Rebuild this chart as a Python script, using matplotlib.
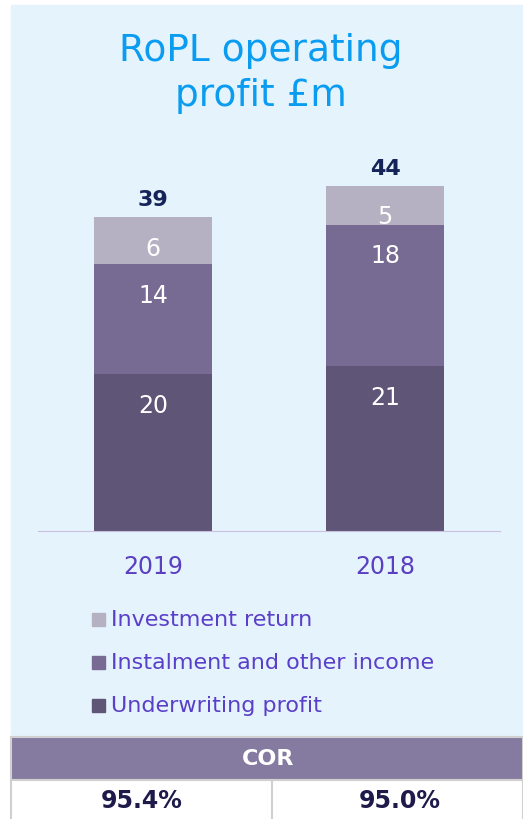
import matplotlib.pyplot as plt
from matplotlib.patches import Rectangle
import numpy as np

years = ["2019", "2018"]
underwriting = [20, 21]
instalment = [14, 18]
investment = [6, 5]
totals = [39, 44]
cor = ["95.4%", "95.0%"]

series = [
    ("Underwriting profit", underwriting, "#5e5577"),
    ("Instalment and other income", instalment, "#776b93"),
    ("Investment return", investment, "#b6b1c2"),
]

W, H = 523, 819


def fx(px):
    return px / W


def fy(py):
    return 1 - py / H


def main():
    plt.rcParams['font.family'] = ['DejaVu Sans']
    fig = plt.figure(figsize=(W / 100, H / 100), dpi=100)
    fig.patch.set_facecolor("white")

    # light blue panel
    fig.patches.append(Rectangle((fx(11), fy(737)), fx(512), 732 / H,
                                 transform=fig.transFigure, color="#e5f3fd", zorder=-5))

    fig.text(fx(261), fy(51), "RoPL operating", ha="center", va="center",
             fontsize=27, color="#0a9cf0")
    fig.text(fx(261), fy(96), "profit £m", ha="center", va="center",
             fontsize=27, color="#0a9cf0")

    ax = fig.add_axes([fx(38), fy(531), fx(462), 400 / H])
    ax.set_zorder(1)
    ax.set_facecolor("none")
    x = np.arange(len(years))
    bottom = np.zeros(len(years))
    for name, vals, col in series:
        vals = np.array(vals)
        ax.bar(x, vals, 0.509, bottom=bottom, color=col, zorder=2)
        # labels sit a fixed distance below each segment's top
        for xi, b, v in zip(x, bottom, vals):
            ax.text(xi, b + v - 4.0, str(v), ha="center", va="center",
                    color="white", fontsize=17, zorder=3)
        bottom = bottom + vals
    for xi, t, b in zip(x, totals, bottom):
        ax.text(xi, b + 0.9, str(t), ha="center", va="bottom",
                color="#142459", fontsize=16, fontweight="bold")

    ax.set_xlim(-0.496, 1.496)
    ax.set_ylim(0, 51)
    for s in ["top", "right", "left"]:
        ax.spines[s].set_visible(False)
    ax.spines["bottom"].set_color("#c8c0dc")
    ax.set_yticks([])
    ax.set_xticks(x)
    ax.set_xticklabels(years, fontsize=17, color="#5a3fc0")
    ax.tick_params(axis="x", length=0, pad=17)

    # legend
    for i, (name, vals, col) in enumerate(series[::-1]):
        yc = 620 + i * 43
        fig.patches.append(Rectangle((fx(92), fy(yc + 6)), fx(13), 13 / H,
                                     transform=fig.transFigure, color=col, zorder=2))
        fig.text(fx(111), fy(yc), name, ha="left", va="center",
                 fontsize=16, color="#5a3fc8")

    # COR table
    fig.patches.append(Rectangle((fx(11), fy(780)), fx(512), 43 / H,
                                 transform=fig.transFigure, facecolor="#857aa0",
                                 edgecolor="#d0d0d0", linewidth=1.5, zorder=2))
    fig.patches.append(Rectangle((fx(11), fy(822)), fx(512), 42 / H,
                                 transform=fig.transFigure, facecolor="white",
                                 edgecolor="#d0d0d0", linewidth=1.5, zorder=2))
    fig.lines.append(plt.Line2D([fx(272), fx(272)], [fy(780), fy(819)],
                                transform=fig.transFigure, color="#d0d0d0",
                                linewidth=1.5, zorder=3))
    fig.text(fx(268), fy(759), "COR", ha="center", va="center", fontsize=16,
             fontweight="bold", color="white", zorder=4)
    for xc, v in zip([142, 400], cor):
        fig.text(fx(xc), fy(801), v, ha="center", va="center", fontsize=17,
                 fontweight="bold", color="#1e1a4a", zorder=4)

    fig.savefig("out.png", dpi=100, facecolor=fig.get_facecolor())


if __name__ == "__main__":
    main()
